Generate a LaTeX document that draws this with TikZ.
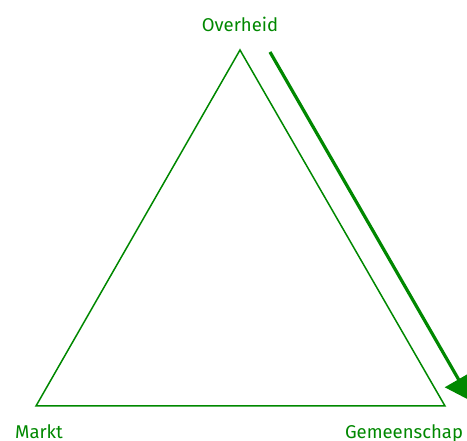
\documentclass[tikz,border=0pt]{standalone}
\usepackage{fontspec}
\setmainfont{Fira Sans}
\usetikzlibrary{arrows.meta}
\definecolor{gr}{RGB}{0,136,0}
\begin{document}
\begin{tikzpicture}[x=1pt,y=-1pt,
  lbl/.style={text=gr,font=\fontsize{18.5}{21}\selectfont,inner sep=0pt,anchor=base},
  edge/.style={draw=gr,line width=1.5pt,line join=miter},
  bigarrow/.style={draw=gr,line width=3.2pt,-{Triangle[length=25pt,width=31pt]}}]
\useasboundingbox (0,0) rectangle (467,441);
\coordinate (top) at (240,50);
\coordinate (bl) at (36,406);
\coordinate (br) at (445,406);
\coordinate (as) at (270,52);
\coordinate (ae) at (471,401);
\draw[edge] (top) -- (bl) -- (br) -- cycle;
\draw[bigarrow] (as) -- (ae);
\node[lbl] (ov) at (240,32) {Overheid};
\node[lbl] (mk) at (39,439) {Markt};
\node[lbl] (gm) at (404,439) {Gemeenschap};
\end{tikzpicture}
\end{document}
